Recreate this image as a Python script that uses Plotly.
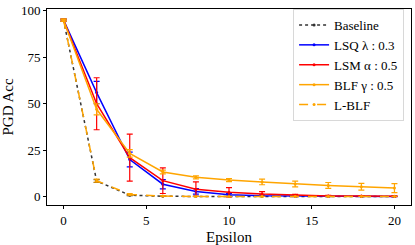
import plotly.graph_objects as go

eps = [0, 2, 4, 6, 8, 10, 12, 14, 16, 18, 20]

baseline = [95, 8.4, 0.8, 0.2, 0.1, 0.1, 0.1, 0.1, 0.1, 0.1, 0.1]
baseline_err = [0.5, 0.8, 0.3, 0.1, 0, 0, 0, 0, 0, 0, 0]

lsq = [95, 56, 20, 6.7, 2.8, 1.0, 0.5, 0.3, 0.2, 0.15, 0.1]
lsq_err = [0.5, 6, 4, 2.5, 1.5, 0.8, 0.4, 0.3, 0.2, 0.1, 0.1]

lsm = [95, 50, 21, 8.6, 4.0, 2.3, 1.4, 0.7, 0.4, 0.3, 0.2]
lsm_err = [0.5, 14, 12.7, 6.9, 3.9, 2.5, 1.3, 0.5, 0.3, 0.2, 0.2]

blf = [95, 47, 23.3, 13.3, 10.4, 8.9, 7.9, 6.8, 6.0, 5.3, 4.6]
blf_err = [0.5, 3, 2, 1.0, 0.8, 0.8, 1.5, 1.5, 1.6, 1.8, 2.4]

lblf = [95, 8.6, 1.2, 0.3, 0.1, 0.1, 0.1, 0.1, 0.1, 0.1, 0.1]
lblf_err = [0.5, 0.8, 0.4, 0.1, 0, 0, 0, 0, 0, 0, 0]

names = ["Baseline", "LSQ λ : 0.3", "LSM α : 0.5", "BLF γ : 0.5", "L-BLF"]
series = [baseline, lsq, lsm, blf, lblf]
errors = [baseline_err, lsq_err, lsm_err, blf_err, lblf_err]
colors = ["#333333", "#0000ff", "#ff0000", "#ffa500", "#ffa500"]
dashes = ["dot", "solid", "solid", "solid", "dash"]

fig = go.Figure()
for n, y, e, c, d in zip(names, series, errors, colors, dashes):
    fig.add_trace(go.Scatter(
        x=eps, y=y, name=n, mode="lines+markers",
        line=dict(color=c, width=1.5, dash=d),
        marker=dict(color=c, size=3),
        error_y=dict(type="data", array=e, visible=True, color=c,
                     thickness=1.2, width=3),
    ))

font = "Liberation Serif"
fig.update_layout(
    width=415, height=245,
    margin=dict(l=47, r=3, t=4, b=40),
    paper_bgcolor="white", plot_bgcolor="white",
    font=dict(family=font, size=11, color="black"),
    showlegend=True,
    legend=dict(x=0.981, y=1.0, xanchor="right", yanchor="top",
                bgcolor="rgba(255,255,255,0.85)", bordercolor="#d8d8d8",
                borderwidth=1, font=dict(family=font, size=13),
                tracegroupgap=0, itemwidth=30),
    xaxis=dict(range=[-1, 21], tickvals=[0, 5, 10, 15, 20],
               ticks="outside", ticklen=3, tickcolor="black",
               showgrid=False, zeroline=False, showline=True,
               linecolor="black", linewidth=1, mirror=True,
               ticklabeloverflow="allow",
               title=dict(text="Epsilon", font=dict(family=font, size=15), standoff=4),
               tickfont=dict(family=font, size=13)),
    yaxis=dict(range=[-4.5, 101], tickvals=[0, 25, 50, 75, 100],
               ticks="outside", ticklen=3, tickcolor="black",
               showgrid=False, zeroline=False, showline=True,
               linecolor="black", linewidth=1, mirror=True,
               ticklabeloverflow="allow",
               title=dict(text="PGD Acc", font=dict(family=font, size=15), standoff=4),
               tickfont=dict(family=font, size=13)),
)
fig.write_html("out.html", config={"displayModeBar": False},
               post_script="document.body.style.margin='0';document.body.style.overflow='hidden';")
